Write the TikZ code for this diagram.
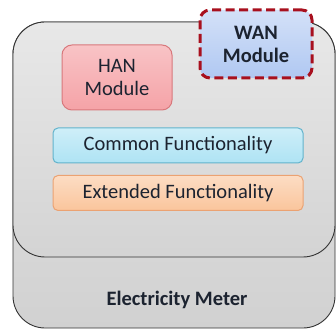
\documentclass[tikz,border=0pt]{standalone}
\usepackage{fontspec}
\setmainfont{Carlito}
\usepackage{xcolor}
\usepackage{tikz}
\usetikzlibrary{shapes,positioning}
\definecolor{txtcol}{HTML}{1C2330}
\definecolor{hanfill}{HTML}{F5A3A7}
\definecolor{handraw}{HTML}{D8787C}
\definecolor{wanfill}{HTML}{B0C8F2}
\definecolor{wandraw}{HTML}{A8101E}
\definecolor{comfill}{HTML}{AEE3F4}
\definecolor{comdraw}{HTML}{62B3CC}
\definecolor{extfill}{HTML}{FAC59C}
\definecolor{extdraw}{HTML}{EBA272}
\tikzset{meterbox/.style={rectangle,rounded corners=32pt,draw=black!80,line width=0.9pt,inner sep=0pt},
  modbox/.style={rectangle,rounded corners=10pt,inner sep=0pt,align=center,text=txtcol,font=\fontsize{20.5}{23}\selectfont},
  funcbox/.style={rectangle,rounded corners=5pt,inner sep=0pt,line width=1pt,minimum width=250pt,minimum height=35pt,text=txtcol,font=\fontsize{20.5}{23}\selectfont}}

\begin{document}
\begin{tikzpicture}[x=1pt,y=1pt]
    \useasboundingbox[fill=white] (0,0) rectangle (336,331);
    \node[meterbox,minimum width=322pt,minimum height=306pt,top color=black!10,bottom color=black!18] (meter) at (174,156) {};
    \node[meterbox,minimum width=322pt,minimum height=235pt,top color=black!9,bottom color=black!17] (board) at (174,191.5) {};
    \node[text=txtcol,font=\fontsize{20.5}{23}\selectfont\bfseries] (lbl) at (177,31) {Electricity Meter};

    \node[modbox,minimum width=110pt,minimum height=65pt,draw=handraw,line width=1pt,top color=hanfill!65,bottom color=hanfill] (han) at (117,253.5) {HAN\\Module};
    \node[modbox,minimum width=112pt,minimum height=68pt,draw=wandraw,line width=3pt,dash pattern=on 9pt off 4.5pt,top color=wanfill!55,bottom color=wanfill,font=\fontsize{20.5}{23}\selectfont\bfseries] (wan) at (256,287) {WAN\\Module};

    \node[funcbox,draw=comdraw,top color=comfill!60,bottom color=comfill] (common) at (178,185.5) {Common Functionality};
    \node[funcbox,draw=extdraw,top color=extfill!60,bottom color=extfill] (extended) at (178,138) {Extended Functionality};
\end{tikzpicture}
\end{document}
